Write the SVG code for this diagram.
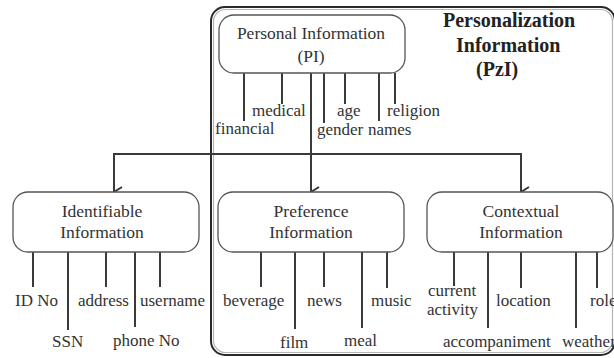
<svg xmlns="http://www.w3.org/2000/svg" width="614" height="358" viewBox="0 0 614 358">
  <defs>
    <marker id="arrow" viewBox="0 0 12 10" refX="6" refY="9" markerWidth="12" markerHeight="10" markerUnits="userSpaceOnUse" orient="auto-start-reverse">
      <path d="M1,1 L6,9 L11,1" fill="none" stroke="#333" stroke-width="1.8"/>
    </marker>
  </defs>
  <style>
    text { font-family: "Liberation Serif", "Times New Roman", serif; fill: #333; }
    .lbl { font-size: 17px; }
    .box text { font-size: 17.5px; text-anchor: middle; }
    .title { font-size: 20px; font-weight: bold; fill: #222; }
    .box rect { fill: #fff; stroke: #555; stroke-width: 1.3; }
    .ln { stroke: #3a3a3a; stroke-width: 2; fill: none; }
    .frame { fill: none; stroke: #2a2a2a; stroke-width: 2; }
    .frame-in { fill: none; stroke: #b5b5b5; stroke-width: 1.2; }
  </style>

  <rect width="614" height="358" fill="#fff"/>

  <!-- Personalization Information (PzI) container -->
  <g id="pzi">
    <rect class="frame" x="211" y="7" width="404" height="348" rx="14"/>
    <rect class="frame-in" x="213.5" y="9.5" width="399" height="343" rx="12"/>
    <text class="title" x="443" y="27">Personalization</text>
    <text class="title" x="456" y="52">Information</text>
    <text class="title" x="476" y="76">(PzI)</text>
  </g>

  <!-- connectors -->
  <g id="connectors">
    <!-- trunk and branches -->
    <path class="ln" d="M311,73 V192" marker-end="url(#arrow)"/>
    <path class="ln" d="M114,192 V154 H521 V192" marker-start="url(#arrow)" marker-end="url(#arrow)"/>

    <!-- PI attributes -->
    <path class="ln" d="M244,73 V121"/>
    <path class="ln" d="M282,73 V104"/>
    <path class="ln" d="M324,73 V123"/>
    <path class="ln" d="M345,73 V104"/>
    <path class="ln" d="M379,73 V121"/>
    <path class="ln" d="M395,73 V104"/>

    <!-- Identifiable attributes -->
    <path class="ln" d="M33,252 V287"/>
    <path class="ln" d="M68,252 V330"/>
    <path class="ln" d="M106,252 V287"/>
    <path class="ln" d="M135,252 V327"/>
    <path class="ln" d="M160,252 V287"/>

    <!-- Preference attributes -->
    <path class="ln" d="M261,252 V287"/>
    <path class="ln" d="M295,252 V329"/>
    <path class="ln" d="M324,252 V287"/>
    <path class="ln" d="M362,252 V328"/>
    <path class="ln" d="M387,252 V288"/>

    <!-- Contextual attributes -->
    <path class="ln" d="M454,252 V286"/>
    <path class="ln" d="M488,252 V328"/>
    <path class="ln" d="M521,252 V288"/>
    <path class="ln" d="M576,252 V328"/>
    <path class="ln" d="M597,252 V288"/>
  </g>

  <!-- Personal Information -->
  <g id="pi" class="box">
    <rect x="219" y="15" width="186" height="58" rx="15"/>
    <text x="311" y="39">Personal Information</text>
    <text x="311" y="62">(PI)</text>
  </g>
  <g id="pi-labels" class="lbl">
    <text x="215" y="134">financial</text>
    <text x="252" y="116">medical</text>
    <text x="337" y="116">age</text>
    <text x="387" y="116">religion</text>
    <text x="317" y="135">gender</text>
    <text x="368" y="135">names</text>
  </g>

  <!-- Identifiable Information -->
  <g id="identifiable" class="box">
    <rect x="13" y="192" width="186" height="60" rx="15"/>
    <text x="102" y="217">Identifiable</text>
    <text x="102" y="238">Information</text>
  </g>
  <g id="identifiable-labels" class="lbl">
    <text x="15" y="306">ID No</text>
    <text x="52" y="347">SSN</text>
    <text x="78" y="306">address</text>
    <text x="113" y="346">phone No</text>
    <text x="140" y="306">username</text>
  </g>

  <!-- Preference Information -->
  <g id="preference" class="box">
    <rect x="218" y="192" width="186" height="60" rx="15"/>
    <text x="311" y="217">Preference</text>
    <text x="311" y="238">Information</text>
  </g>
  <g id="preference-labels" class="lbl">
    <text x="223" y="306">beverage</text>
    <text x="280" y="348">film</text>
    <text x="307" y="306">news</text>
    <text x="344" y="346">meal</text>
    <text x="371" y="306">music</text>
  </g>

  <!-- Contextual Information -->
  <g id="contextual" class="box">
    <rect x="427" y="192" width="186" height="60" rx="15"/>
    <text x="521" y="217">Contextual</text>
    <text x="521" y="238">Information</text>
  </g>
  <g id="contextual-labels" class="lbl">
    <text x="428" y="296">current</text>
    <text x="427" y="315">activity</text>
    <text x="443" y="347">accompaniment</text>
    <text x="496" y="306">location</text>
    <text x="562" y="347">weather</text>
    <text x="590" y="306">role</text>
  </g>
</svg>
